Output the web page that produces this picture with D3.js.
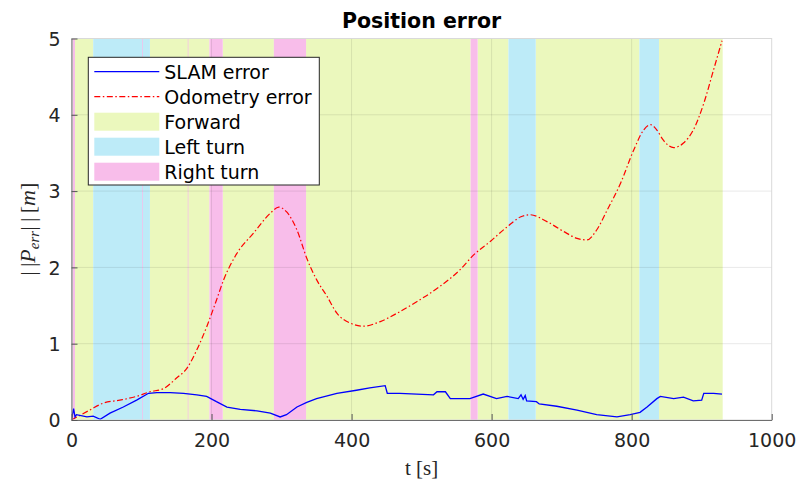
<!DOCTYPE html>
<html>
<head>
<meta charset="utf-8">
<script src="https://cdn.jsdelivr.net/npm/d3@7"></script>
<style>
  body { margin: 0; background: #fff; }
  .tick text { font-family: "DejaVu Sans", sans-serif; font-size: 19px; fill: #262626; }
</style>
</head>
<body>
<script>
// time stamps [s] and error norms [m]
var slamT = [0, 3, 5, 7, 22, 31, 41, 55, 74, 93, 110, 122, 141, 160, 179, 193, 207, 222, 241, 265, 284, 298, 307,
  322, 336, 350, 379, 407, 426, 448, 451, 469, 517, 522, 534, 541, 569, 588, 607, 622, 638, 642, 645, 648, 650,
  664, 668, 693, 722, 750, 779, 798, 812, 822, 836, 841, 860, 874, 888, 900, 903, 917, 929];
var slamErr = [0, 0.15, 0.04, 0.07, 0.04, 0.05, 0.01, 0.09, 0.17, 0.26, 0.35, 0.36, 0.36, 0.35, 0.33, 0.31, 0.24,
  0.17, 0.14, 0.12, 0.09, 0.04, 0.07, 0.17, 0.23, 0.28, 0.35, 0.39, 0.42, 0.45, 0.35, 0.35, 0.33, 0.37, 0.37, 0.28,
  0.28, 0.34, 0.28, 0.31, 0.28, 0.33, 0.27, 0.32, 0.25, 0.24, 0.21, 0.18, 0.13, 0.07, 0.04, 0.07, 0.10, 0.17, 0.28,
  0.31, 0.28, 0.30, 0.25, 0.26, 0.35, 0.35, 0.34];

var odomT = [0, 26, 45, 69, 93, 112, 131, 150, 165, 179, 193, 207, 217, 236, 260, 284, 296, 307, 322, 336, 350,
  365, 379, 398, 417, 441, 465, 493, 526, 555, 574, 598, 622, 641, 655, 679, 703, 722, 736, 750, 765, 784, 803,
  817, 827, 836, 845, 860, 874, 888, 903, 917, 929];
var odomErr = [0, 0.13, 0.22, 0.26, 0.31, 0.37, 0.41, 0.55, 0.68, 0.92, 1.22, 1.57, 1.83, 2.18, 2.45, 2.71, 2.79,
  2.73, 2.49, 2.12, 1.84, 1.62, 1.40, 1.27, 1.23, 1.29, 1.40, 1.55, 1.75, 1.97, 2.16, 2.34, 2.53, 2.66, 2.69, 2.60,
  2.47, 2.38, 2.36, 2.49, 2.75, 3.10, 3.54, 3.80, 3.87, 3.80, 3.67, 3.57, 3.63, 3.80, 4.15, 4.59, 4.97];

// motion phases [start, end] in seconds
var forwardPhases = [[5, 31], [112, 197], [216, 289], [335, 570], [580, 624], [663, 811], [839, 930]];
var leftPhases = [[31, 112], [624, 663], [811, 839]];
var rightPhases = [[2, 5], [101, 102], [166, 167], [197, 216], [289, 335], [570, 580]];

var xTicks = [0, 200, 400, 600, 800, 1000];
var yTicks = [0, 1, 2, 3, 4, 5];

var colForward = '#ebf8bd';
var colLeft = '#bdebf8';
var colRight = '#f8bdea';

var width = 805, height = 487;
var margin = { top: 38.5, right: 33.3, bottom: 67, left: 71.5 };
var w = width - margin.left - margin.right;
var h = height - margin.top - margin.bottom;

var svg = d3.select('body').append('svg')
  .attr('width', width)
  .attr('height', height);

var g = svg.append('g')
  .attr('transform', 'translate(' + margin.left + ',' + margin.top + ')');

var x = d3.scaleLinear().domain([0, 1000]).range([0, w]);
var y = d3.scaleLinear().domain([0, 5]).range([h, 0]);

// phase patches
function drawPhases(list, color) {
  g.append('g').selectAll('rect')
    .data(list)
    .enter()
    .append('rect')
    .attr('x', function (d) { return x(d[0]); })
    .attr('width', function (d) { return x(d[1]) - x(d[0]); })
    .attr('y', y(5))
    .attr('height', y(0) - y(5))
    .attr('fill', color);
}
drawPhases(forwardPhases, colForward);
drawPhases(leftPhases, colLeft);
drawPhases(rightPhases, colRight);

// grid
g.append('g').selectAll('line')
  .data(xTicks.slice(1, -1))
  .enter().append('line')
  .attr('x1', function (d) { return x(d); })
  .attr('x2', function (d) { return x(d); })
  .attr('y1', 0).attr('y2', h)
  .attr('stroke', 'rgba(0,0,0,0.09)');
g.append('g').selectAll('line')
  .data(yTicks.slice(1, -1))
  .enter().append('line')
  .attr('y1', function (d) { return y(d); })
  .attr('y2', function (d) { return y(d); })
  .attr('x1', 0).attr('x2', w)
  .attr('stroke', 'rgba(0,0,0,0.09)');

// error curves
var odomLine = d3.line()
  .x(function (d, i) { return x(odomT[i]); })
  .y(function (d) { return y(d); })
  .curve(d3.curveMonotoneX);
g.append('path')
  .attr('d', odomLine(odomErr))
  .attr('fill', 'none')
  .attr('stroke', '#ff0000')
  .attr('stroke-width', 1.2)
  .attr('stroke-dasharray', '6,2.5,1.5,2.5');

var slamLine = d3.line()
  .x(function (d, i) { return x(slamT[i]); })
  .y(function (d) { return y(d); });
g.append('path')
  .attr('d', slamLine(slamErr))
  .attr('fill', 'none')
  .attr('stroke', '#0000ff')
  .attr('stroke-width', 1.3);

// box
g.append('rect')
  .attr('width', w).attr('height', h)
  .attr('fill', 'none')
  .attr('stroke', '#d9d9d9');

// axes
var fmt = d3.format('d');
var xAxis = g.append('g')
  .attr('transform', 'translate(0,' + h + ')')
  .call(d3.axisBottom(x).tickValues(xTicks).tickFormat(fmt)
    .tickSizeInner(-6).tickSizeOuter(0).tickPadding(14));
var yAxis = g.append('g')
  .call(d3.axisLeft(y).tickValues(yTicks).tickFormat(fmt)
    .tickSizeInner(-6).tickSizeOuter(0).tickPadding(11));
[xAxis, yAxis].forEach(function (a) {
  a.select('.domain').attr('stroke', '#6e6e6e');
  a.selectAll('.tick line').attr('stroke', '#555');
});
yAxis.selectAll('.tick text').attr('dy', '0.36em');

// title and labels
svg.append('text')
  .attr('x', margin.left + w / 2)
  .attr('y', 28)
  .attr('text-anchor', 'middle')
  .attr('font-family', 'DejaVu Sans, sans-serif')
  .attr('font-weight', 'bold')
  .attr('font-size', 20.5)
  .attr('fill', '#000')
  .text('Position error');

svg.append('text')
  .attr('x', margin.left + w / 2)
  .attr('y', 475)
  .attr('text-anchor', 'middle')
  .attr('font-family', 'Liberation Serif, serif')
  .attr('font-size', 21)
  .attr('fill', '#262626')
  .text('t [s]');

var yl = svg.append('text')
  .attr('transform', 'translate(35,' + (margin.top + h / 2) + ') rotate(-90)')
  .attr('text-anchor', 'middle')
  .attr('font-family', 'Liberation Serif, serif')
  .attr('font-size', 22)
  .attr('fill', '#262626');
yl.append('tspan').text('|\u2009|');
yl.append('tspan').attr('font-style', 'italic').text('P');
yl.append('tspan').attr('font-style', 'italic').attr('font-size', 15).attr('dy', 4).text('err');
yl.append('tspan').attr('dy', -4).text('|\u2009|\u2009[');
yl.append('tspan').attr('font-style', 'italic').text('m');
yl.append('tspan').text(']');

// legend
var legendItems = [
  { label: 'SLAM error', type: 'line', color: '#0000ff' },
  { label: 'Odometry error', type: 'dash', color: '#ff0000' },
  { label: 'Forward', type: 'patch', color: colForward },
  { label: 'Left turn', type: 'patch', color: colLeft },
  { label: 'Right turn', type: 'patch', color: colRight }
];
var lg = svg.append('g').attr('transform', 'translate(88.3,57.3)');
lg.append('rect')
  .attr('width', 231).attr('height', 127.7)
  .attr('fill', '#fff')
  .attr('stroke', '#262626')
  .attr('stroke-width', 1);
var items = lg.selectAll('.item')
  .data(legendItems)
  .enter().append('g')
  .attr('transform', function (d, i) { return 'translate(0,' + (14.4 + i * 25) + ')'; });
items.each(function (d) {
  var s = d3.select(this);
  if (d.type === 'patch') {
    s.append('rect').attr('x', 6).attr('y', -9).attr('width', 65).attr('height', 18).attr('fill', d.color);
  } else {
    s.append('line').attr('x1', 6).attr('x2', 71).attr('y1', 0).attr('y2', 0)
      .attr('stroke', d.color).attr('stroke-width', 1.2)
      .attr('stroke-dasharray', d.type === 'dash' ? '6,2.5,1.5,2.5' : null);
  }
  s.append('text')
    .attr('x', 76).attr('y', 0).attr('dy', '0.36em')
    .attr('font-family', 'DejaVu Sans, sans-serif')
    .attr('font-size', 19)
    .attr('fill', '#000')
    .text(d.label);
});
</script>
</body>
</html>
